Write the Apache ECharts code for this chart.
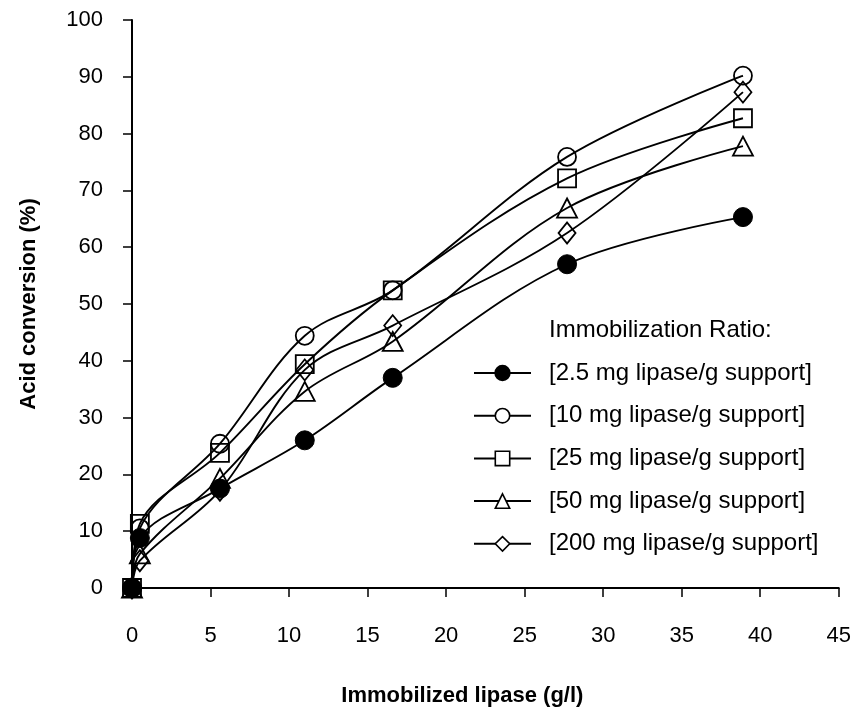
<!DOCTYPE html>
<html>
<head>
<meta charset="utf-8">
<script src="https://cdn.jsdelivr.net/npm/echarts@6/dist/echarts.min.js"></script>
<style>html,body{margin:0;padding:0;background:#fff}#c{width:854px;height:716px}</style>
</head>
<body>
<div id="c"></div>
<script>
// Data
const xValues = [0, 0.5, 5.6, 11, 16.6, 27.7, 38.9];
const seriesNames = ['[2.5 mg lipase/g support]', '[10 mg lipase/g support]', '[25 mg lipase/g support]', '[50 mg lipase/g support]', '[200 mg lipase/g support]'];
const s2_5 = [0, 8.8, 17.5, 26, 37, 57, 65.3];
const s10 = [0, 10.5, 25.4, 44.4, 52.4, 75.9, 90.2];
const s25 = [0, 11.3, 23.8, 39.4, 52.4, 72.1, 82.7];
const s50 = [0, 6, 19.3, 34.6, 43.4, 66.9, 77.8];
const s200 = [0, 4.8, 17.2, 38.4, 46.2, 62.5, 87.3];
const xTicks = [0, 5, 10, 15, 20, 25, 30, 35, 40, 45];
const yTicks = [0, 10, 20, 30, 40, 50, 60, 70, 80, 90, 100];

const allValues = [s2_5, s10, s25, s50, s200];
const symbols = ['circle', 'circle', 'rect', 'triangle', 'diamond'];
const filled = [true, false, false, false, false];
const sizes = [19, 18, 18, [20, 19], [17, 21]];

const font = 'Liberation Sans, Arial, sans-serif';

const series = allValues.map((vals, i) => ({
  name: seriesNames[i],
  type: 'line',
  smooth: 0.35,
  data: xValues.map((x, j) => [x, vals[j]]),
  symbol: symbols[i],
  symbolSize: sizes[i],
  lineStyle: { color: '#000', width: 1.9 },
  itemStyle: filled[i]
    ? { color: '#000', borderColor: '#000', borderWidth: 1 }
    : { color: 'rgba(255,255,255,0)', borderColor: '#000', borderWidth: 1.8 },
  emphasis: { disabled: true },
  animation: false,
  z: 2 + i
}));

const chart = echarts.init(document.getElementById('c'), null, { renderer: 'canvas' });
chart.setOption({
  backgroundColor: '#fff',
  animation: false,
  grid: { left: 132, right: 14, top: 20, bottom: 128, containLabel: false },
  xAxis: {
    type: 'value',
    min: xTicks[0], max: xTicks[xTicks.length - 1], interval: 5,
    name: 'Immobilized lipase (g/l)',
    nameLocation: 'middle',
    nameGap: 97,
    nameTextStyle: { fontFamily: font, fontWeight: 'bold', fontSize: 22, color: '#000', padding: [0, 46, 0, 0] },
    axisLine: { lineStyle: { color: '#000', width: 2 } },
    axisTick: { show: true, length: 9, lineStyle: { color: '#000', width: 1.5 } },
    axisLabel: { margin: 37, fontFamily: font, fontSize: 22, color: '#000' },
    splitLine: { show: false }
  },
  yAxis: {
    type: 'value',
    min: yTicks[0], max: yTicks[yTicks.length - 1], interval: 10,
    name: 'Acid conversion (%)',
    nameLocation: 'middle',
    nameGap: 92,
    nameRotate: 90,
    nameTextStyle: { fontFamily: font, fontWeight: 'bold', fontSize: 22, color: '#000' },
    axisLine: { show: true, lineStyle: { color: '#000', width: 2 } },
    axisTick: { show: true, length: 9, lineStyle: { color: '#000', width: 1.5 } },
    axisLabel: { margin: 29, fontFamily: font, fontSize: 22, color: '#000' },
    splitLine: { show: false }
  },
  legend: {
    orient: 'vertical',
    left: 468,
    top: 356,
    itemWidth: 57,
    itemHeight: 18,
    itemGap: 18.7,
    selectedMode: false,
    textStyle: { fontFamily: font, fontSize: 24, color: '#000', padding: [0, 0, 0, 13] },
    data: seriesNames.map((n, i) => ({
      name: n,
      itemStyle: filled[i] ? { color: '#000' } : { color: '#fff', borderColor: '#000', borderWidth: 1.6 }
    }))
  },
  graphic: [{
    type: 'text',
    left: 549,
    top: 318,
    style: { text: 'Immobilization Ratio:', font: '24px ' + font, fill: '#000' }
  }],
  series: series
});
</script>
</body>
</html>
